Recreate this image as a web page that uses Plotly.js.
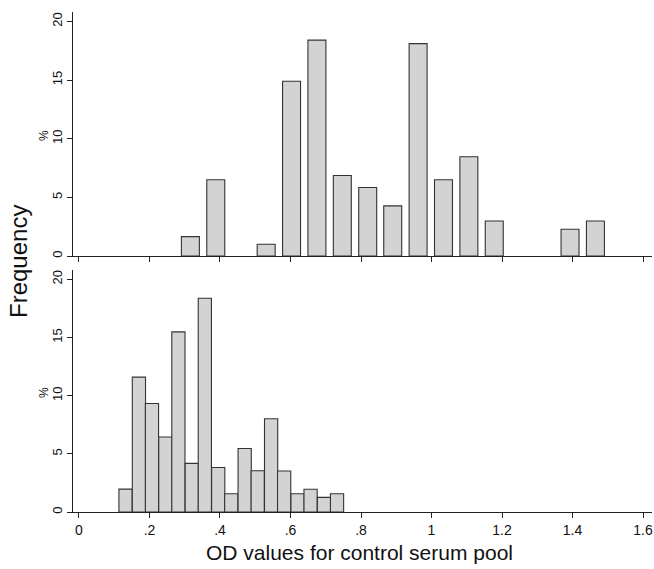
<!DOCTYPE html>
<html><head><meta charset="utf-8">
<script src="https://cdn.plot.ly/plotly-3.0.1.min.js"></script>
<style>html,body{margin:0;padding:0;background:#fff}</style>
</head><body><div id="chart" style="width:654px;height:569px"></div>
<script>
// Top panel: bin midpoints and percentages
const topBins = [0.316, 0.388, 0.531, 0.603, 0.675, 0.747, 0.819, 0.890, 0.962, 1.034, 1.106, 1.178, 1.393, 1.465];
const topPct  = [1.65, 6.5, 1.0, 14.9, 18.4, 6.86, 5.84, 4.27, 18.1, 6.5, 8.46, 2.99, 2.28, 2.99];
// Bottom panel: bin midpoints and percentages
const botBins = [0.132, 0.170, 0.207, 0.245, 0.282, 0.320, 0.357, 0.395, 0.432, 0.470, 0.507, 0.545, 0.582, 0.620, 0.657, 0.695, 0.732];
const botPct  = [1.97, 11.59, 9.33, 6.44, 15.48, 4.18, 18.37, 3.83, 1.57, 5.46, 3.55, 8.01, 3.52, 1.57, 1.95, 1.26, 1.57];
const xTickVals = [0, 0.2, 0.4, 0.6, 0.8, 1, 1.2, 1.4, 1.6];
const xTickText = ['0', '.2', '.4', '.6', '.8', '1', '1.2', '1.4', '1.6'];
const yTickVals = [0, 5, 10, 15, 20];

const narrow = 'Liberation Sans Narrow, Liberation Sans, Arial, sans-serif';
const sans = 'Liberation Sans, Arial, sans-serif';
const barStyle = {color: '#d3d3d3', line: {color: '#333', width: 1.1}};

const traces = [
  {type: 'bar', x: topBins, y: topPct, width: 0.051, marker: barStyle, xaxis: 'x', yaxis: 'y', hoverinfo: 'x+y'},
  {type: 'bar', x: botBins, y: botPct, width: 0.0375, marker: barStyle, xaxis: 'x2', yaxis: 'y2', hoverinfo: 'x+y'}
];

const xBase = {
  range: [-0.034, 1.6255], tickvals: xTickVals, ticktext: xTickText, domain: [0, 1],
  showgrid: false, zeroline: false, showline: true, linecolor: '#222', linewidth: 1,
  ticks: 'outside', ticklen: 5, tickcolor: '#222', tickwidth: 1,
  tickfont: {family: narrow, size: 14, color: '#111'}
};
const yBase = {
  range: [0, 20.8], tickvals: yTickVals, tickangle: -90,
  showgrid: false, zeroline: false, showline: true, linecolor: '#222', linewidth: 1,
  ticks: 'outside', ticklen: 5, tickcolor: '#222', tickwidth: 1,
  tickfont: {family: sans, size: 13, color: '#111'}
};

const layout = {
  width: 654, height: 569,
  margin: {l: 67, r: 2, t: 12, b: 57},
  paper_bgcolor: '#fff', plot_bgcolor: '#fff',
  showlegend: false, bargap: 0,
  xaxis: Object.assign({}, xBase, {anchor: 'y', showticklabels: false}),
  yaxis: Object.assign({}, yBase, {domain: [0.512, 1], anchor: 'free', overlaying: undefined, position: 0.00855}),
  xaxis2: Object.assign({}, xBase, {anchor: 'y2',
    title: {text: 'OD values for control serum pool', font: {family: sans, size: 21, color: '#111'}, standoff: 8}}),
  yaxis2: Object.assign({}, yBase, {domain: [0, 0.484], anchor: 'free', position: 0.00855}),
  annotations: [
    {text: 'Frequency', xref: 'paper', yref: 'paper', x: -0.0838, y: 0.502,
     xanchor: 'center', yanchor: 'middle', showarrow: false, textangle: -90,
     font: {family: sans, size: 24, color: '#111'}},
    {text: '%', xref: 'paper', yref: 'paper', x: -0.0393, y: 0.752,
     xanchor: 'center', yanchor: 'middle', showarrow: false, textangle: -90,
     font: {family: sans, size: 12, color: '#111'}},
    {text: '%', xref: 'paper', yref: 'paper', x: -0.0393, y: 0.238,
     xanchor: 'center', yanchor: 'middle', showarrow: false, textangle: -90,
     font: {family: sans, size: 12, color: '#111'}}
  ]
};

Plotly.newPlot('chart', traces, layout, {displayModeBar: false, staticPlot: true});
</script></body></html>
